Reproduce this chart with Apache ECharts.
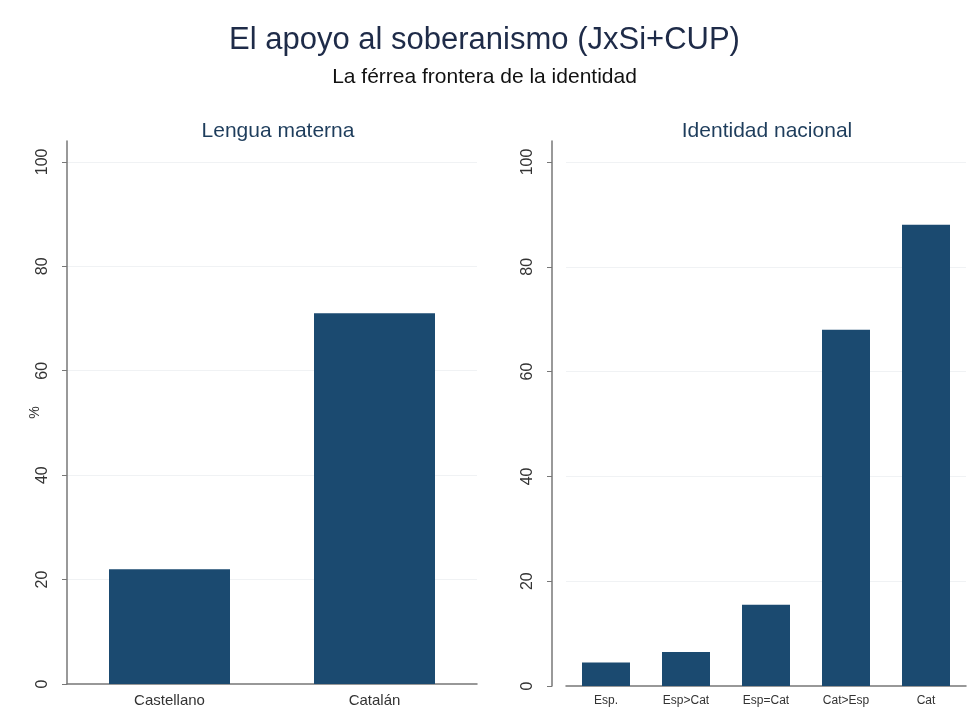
<!DOCTYPE html>
<html><head><meta charset="utf-8">
<script src="https://cdn.jsdelivr.net/npm/echarts@6/dist/echarts.min.js"></script>
<style>html,body{margin:0;padding:0;background:#fff}#c{width:969px;height:711px}</style>
</head><body><div id="c"></div>
<script>
const leftCategories = ['Castellano', 'Catalán'];
const leftValues = [22, 71];
const rightCategories = ['Esp.', 'Esp>Cat', 'Esp=Cat', 'Cat>Esp', 'Cat'];
const rightValues = [4.5, 6.5, 15.5, 68, 88];
const yTicks = [0, 20, 40, 60, 80, 100];

const FONT = '"Liberation Sans", Arial, sans-serif';
const BAR = '#1b4a70';
const chart = echarts.init(document.getElementById('c'));

function yAx(gridIndex, offset, name) {
  return {
    type: 'value', gridIndex, min: 0, max: 104, interval: 20, offset,
    name, nameLocation: 'middle', nameRotate: 90, nameGap: 25, nameMoveOverlap: false,
    nameTextStyle: { fontFamily: FONT, fontSize: 14, color: '#333' },
    axisLine: { show: true, lineStyle: { color: '#777', width: 1.5 } },
    axisTick: { show: true, length: 5, lineStyle: { color: '#777' }, customValues: yTicks },
    axisLabel: { rotate: 90, margin: 16, fontFamily: FONT, fontSize: 16, color: '#333', customValues: yTicks },
    splitLine: { show: true, lineStyle: { color: ['rgba(0,0,0,0)', '#f0f2f4', '#f0f2f4', '#f0f2f4', '#f0f2f4', '#f0f2f4', 'rgba(0,0,0,0)'], width: 1 } }
  };
}
function xAx(gridIndex, data, fs) {
  return {
    type: 'category', gridIndex, data,
    axisLine: { show: true, lineStyle: { color: '#777', width: 1.5 } },
    axisTick: { show: false },
    axisLabel: { fontFamily: FONT, fontSize: fs, color: '#333', margin: 9 }
  };
}

chart.setOption({
  backgroundColor: '#ffffff',
  animation: false,
  title: [
    { text: 'El apoyo al soberanismo (JxSi+CUP)', left: 'center', top: 20,
      textStyle: { fontFamily: FONT, fontSize: 31, fontWeight: 'normal', color: '#1e2b48' } },
    { text: 'La férrea frontera de la identidad', left: 'center', top: 62,
      textStyle: { fontFamily: FONT, fontSize: 21, fontWeight: 'normal', color: '#111' } },
    { text: 'Lengua materna', left: 273, textAlign: 'center', top: 116,
      textStyle: { fontFamily: FONT, fontSize: 21, fontWeight: 'normal', color: '#1e3d5c' } },
    { text: 'Identidad nacional', left: 762, textAlign: 'center', top: 116,
      textStyle: { fontFamily: FONT, fontSize: 21, fontWeight: 'normal', color: '#1e3d5c' } }
  ],
  grid: [
    { left: 67, width: 410, top: 141, height: 543 },
    { left: 566, width: 400, top: 141, height: 545 }
  ],
  xAxis: [xAx(0, leftCategories, 15), xAx(1, rightCategories, 12)],
  yAxis: [yAx(0, 0, '%'), yAx(1, 14, '')],
  series: [
    { type: 'bar', xAxisIndex: 0, yAxisIndex: 0, data: leftValues, barWidth: 121,
      itemStyle: { color: BAR } },
    { type: 'bar', xAxisIndex: 1, yAxisIndex: 1, data: rightValues, barWidth: 48,
      itemStyle: { color: BAR } }
  ]
});
</script></body></html>
